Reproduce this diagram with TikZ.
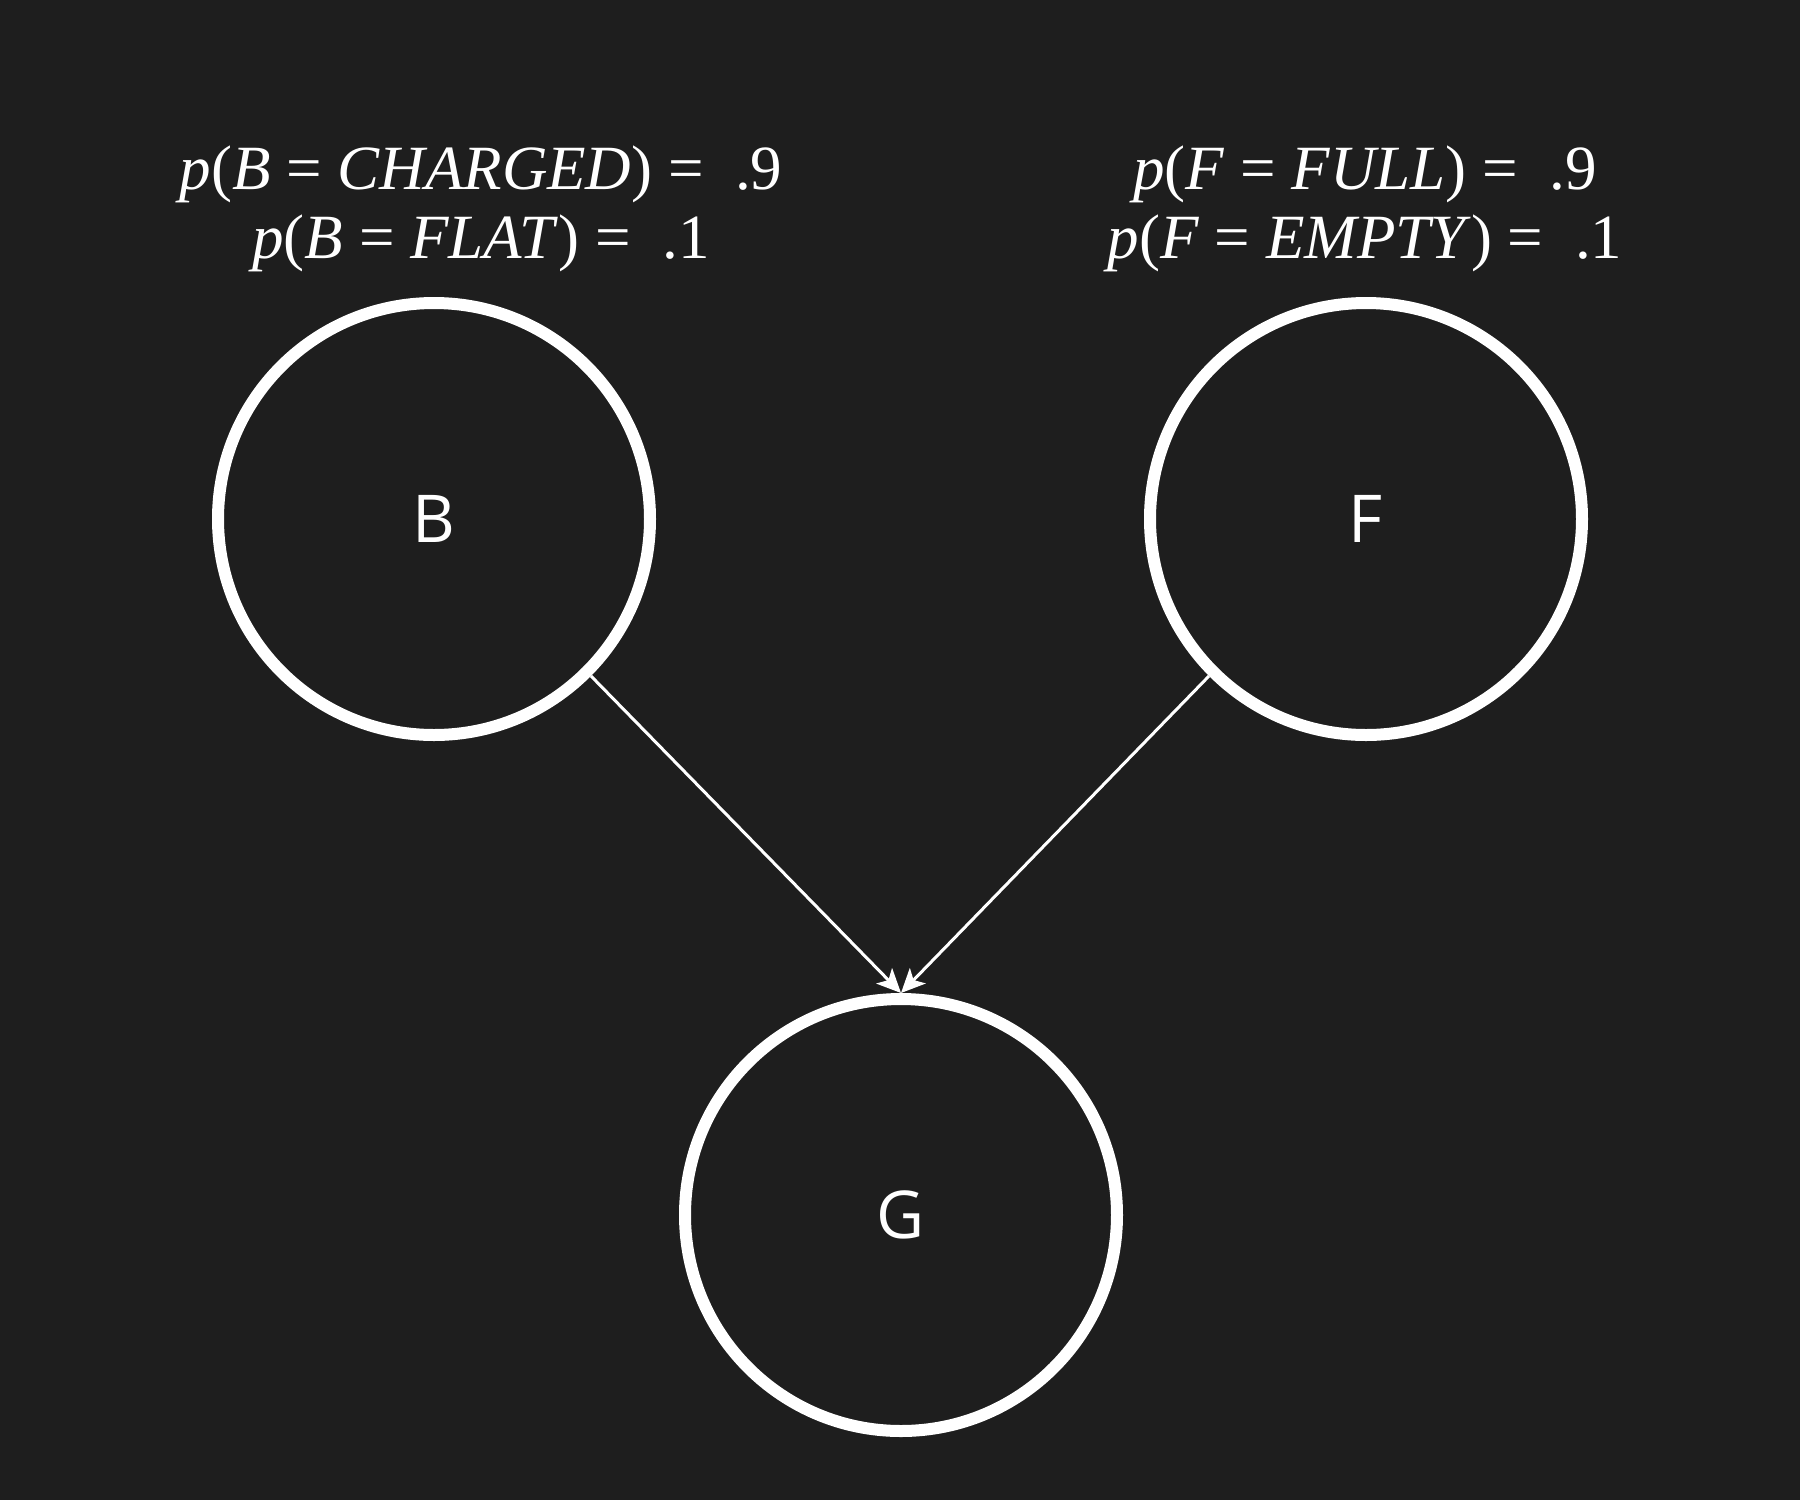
\documentclass[tikz,border=0pt]{standalone}
\usepackage{fontspec}
\setmainfont{Liberation Serif}
\newfontfamily\labelfont{Open Sans}
\usetikzlibrary{arrows.meta}
\definecolor{bg}{HTML}{1E1E1E}
\begin{document}
\begin{tikzpicture}[x=1pt,y=-1pt,
  var/.style={circle, draw=white, line width=12pt, minimum size=432pt, inner sep=0pt,
    text=white, font=\labelfont\fontsize{66}{80}\selectfont},
  prob/.style={text=white, align=center, font=\fontsize{63}{69}\selectfont},
  edge/.style={draw=white, line width=3pt, -{Stealth[length=24pt,width=22pt,inset=6pt]}}]
\fill[bg] (0,0) rectangle (1800,1500);
\useasboundingbox (0,0) rectangle (1800,1500);
\node[var] (B) at (434,519) {B};
\node[var] (F) at (1366,519) {F};
\node[var] (G) at (901,1215) {G};
\node[prob] (pB) at (481,209) {\textit{p}(\textit{B} = \textit{CHARGED}) = \ .9\\\textit{p}(\textit{B} = \textit{FLAT}) = \ .1};
\node[prob] (pF) at (1365,209) {\textit{p}(\textit{F} = \textit{FULL}) = \ .9\\\textit{p}(\textit{F} = \textit{EMPTY}) = \ .1};
\draw[edge] (B.south east) -- (G.north);
\draw[edge] (F.south west) -- (G.north);
\end{tikzpicture}
\end{document}
